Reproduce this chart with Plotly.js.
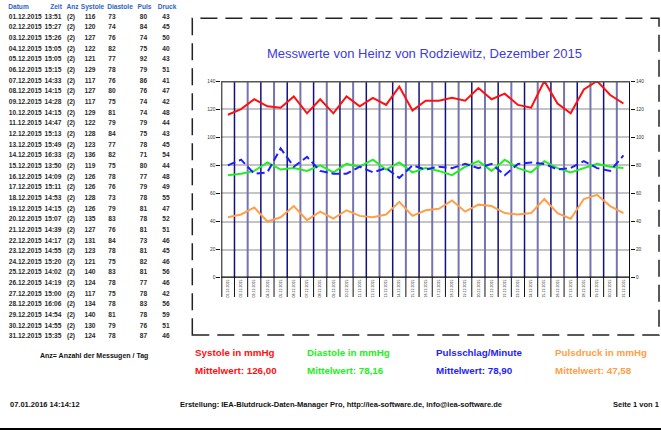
<!DOCTYPE html>
<html>
<head>
<meta charset="utf-8">
<script src="https://cdn.plot.ly/plotly-3.0.1.min.js"></script>
<style>
  html, body { margin: 0; padding: 0; background: #fff; }
  #chart { width: 661px; height: 430px; }
</style>
</head>
<body>
<div id="chart"></div>
<script>
// Blutdruck-Tageswerte Dezember 2015 (Mittel aus 2 Messungen pro Tag)
const dates = ['01.12.2015','02.12.2015','03.12.2015','04.12.2015','05.12.2015','06.12.2015','07.12.2015',
  '08.12.2015','09.12.2015','10.12.2015','11.12.2015','12.12.2015','13.12.2015','14.12.2015','15.12.2015',
  '16.12.2015','17.12.2015','18.12.2015','19.12.2015','20.12.2015','21.12.2015','22.12.2015','23.12.2015',
  '24.12.2015','25.12.2015','26.12.2015','27.12.2015','28.12.2015','29.12.2015','30.12.2015','31.12.2015'];
const times = ['13:51','15:27','15:26','15:05','15:05','15:15','14:33','14:15','14:28','14:15','14:47',
  '15:13','15:49','16:33','13:50','14:09','15:11','14:53','14:15','15:07','14:39','14:17','14:55',
  '15:20','14:02','14:19','15:00','16:06','14:54','14:55','15:35'];
const counts = [2,2,2,2,2,2,2,2,2,2,2,2,2,2,2,2,2,2,2,2,2,2,2,2,2,2,2,2,2,2,2];
const systole = [116,120,127,122,121,129,117,127,117,129,122,128,123,136,119,126,126,128,126,135,127,
  131,123,121,140,124,117,134,140,130,124];
const diastole = [73,74,76,82,77,78,76,80,75,81,79,84,77,82,75,78,76,73,79,83,76,84,78,75,83,78,75,78,
  81,79,78];
const puls = [80,84,74,75,92,79,86,76,74,74,79,75,78,71,80,77,79,78,81,78,81,73,81,82,81,77,78,83,78,76,87];
const druck = [43,45,50,40,43,51,41,47,42,48,44,43,45,54,44,48,49,55,47,52,51,46,45,46,56,46,42,56,59,51,46];

const headers = ['Datum','Zeit','Anz','Systole','Diastole','Puls','Druck'];
const seriesNames = ['Systole in mmHg','Diastole in mmHg','Pulsschlag/Minute','Pulsdruck in mmHg'];
const meanLabels = ['Mittelwert: 126,00','Mittelwert: 78,16','Mittelwert: 78,90','Mittelwert: 47,58'];

const W = 661, H = 430;
const px = v => v / W;          // horizontal pixel -> paper
const py = v => 1 - v / H;      // vertical pixel -> paper
const FONT = 'Liberation Sans, Arial, sans-serif';

const colRed = '#ff1010', colGreen = '#22ee22', colBlue = '#1e1eff', colOrange = '#ffa048';

// ---------- table on the left (own hidden axes, y in row units) ----------
const rowTop = 17, rowStep = 10.66;
const tableYRange = [(H - rowTop) / rowStep, -rowTop / rowStep];
const rowIdx = dates.map((d, i) => i);
const tableCols = [
  { text: dates, x: 25.3 },
  { text: times, x: 53 },
  { text: counts.map(c => '(' + c + ')'), x: 71 },
  { text: systole.map(String), x: 90 },
  { text: diastole.map(String), x: 112 },
  { text: puls.map(String), x: 143.5 },
  { text: druck.map(String), x: 166 }
];
const headerX = [18.5, 56, 72.5, 92.5, 120, 144.5, 167];

const traces = [];
tableCols.forEach(c => {
  traces.push({
    type: 'scatter', mode: 'text', xaxis: 'x2', yaxis: 'y2',
    x: rowIdx.map(() => c.x), y: rowIdx, text: c.text,
    textposition: 'middle center',
    textfont: { family: FONT, size: 6.6, color: '#2a2a2a', weight: 'bold' },
    hoverinfo: 'skip', showlegend: false
  });
});
traces.push({
  type: 'scatter', mode: 'text', xaxis: 'x2', yaxis: 'y2',
  x: headerX, y: headers.map(() => -0.92), text: headers,
  textposition: 'middle center',
  textfont: { family: FONT, size: 6.6, color: '#2f63c4', weight: 'bold' },
  hoverinfo: 'skip', showlegend: false
});

// ---------- main line chart ----------
traces.push({ type: 'scatter', mode: 'lines', x: dates, y: systole, name: seriesNames[0],
  line: { color: colRed, width: 2 }, hoverinfo: 'x+y' });
traces.push({ type: 'scatter', mode: 'lines', x: dates, y: diastole, name: seriesNames[1],
  line: { color: colGreen, width: 2 }, hoverinfo: 'x+y' });
traces.push({ type: 'scatter', mode: 'lines', x: dates, y: puls, name: seriesNames[2],
  line: { color: colBlue, width: 2, dash: '8px,4px' }, hoverinfo: 'x+y' });
traces.push({ type: 'scatter', mode: 'lines', x: dates, y: druck, name: seriesNames[3],
  yaxis: 'y3', line: { color: colOrange, width: 2 }, hoverinfo: 'x+y' });

// plot area in pixels
const plotL = 221.3, plotR = 630, plotT = 81, plotB = 277.7, sepBottom = 297;
const n = dates.length;

const shapes = [];
// dashed page frame
shapes.push({ type: 'rect', xref: 'paper', yref: 'paper',
  x0: px(192.3), x1: px(659), y0: py(335), y1: py(18.3),
  line: { color: '#222', width: 1.5, dash: '17px,8px' }, layer: 'below' });
// bottom page rule
shapes.push({ type: 'line', xref: 'paper', yref: 'paper', x0: 0, x1: 1, y0: py(429), y1: py(429),
  line: { color: '#000', width: 2 } });
// day separators inside the plot, alternating tones
for (let k = 0; k < n - 1; k++) {
  shapes.push({ type: 'line', xref: 'x', yref: 'y', x0: k + 0.5, x1: k + 0.5, y0: 0, y1: 140,
    line: { color: k % 2 === 0 ? '#10107e' : '#7474b0', width: k % 2 === 0 ? 1.5 : 2 }, layer: 'between' });
  // separators between the date labels
  shapes.push({ type: 'line', xref: 'x', yref: 'paper', x0: k + 0.5, x1: k + 0.5,
    y0: py(sepBottom), y1: py(plotB), line: { color: '#111', width: 1 } });
}
// left / right axis lines reaching into the label band
[-0.5, n - 0.5].forEach(xv => {
  shapes.push({ type: 'line', xref: 'x', yref: 'paper', x0: xv, x1: xv,
    y0: py(sepBottom), y1: py(plotT), line: { color: '#111', width: 2 } });
});
// top border and zero line
shapes.push({ type: 'line', xref: 'x', yref: 'y', x0: -0.5, x1: n - 0.5, y0: 140, y1: 140,
  line: { color: '#555', width: 3 } });
shapes.push({ type: 'line', xref: 'x', yref: 'y', x0: -0.5, x1: n - 0.5, y0: 0, y1: 0,
  line: { color: '#000', width: 2.5 } });

// ---------- texts ----------
const ann = [];
ann.push({ xref: 'paper', yref: 'paper', x: px(425), y: py(53), xanchor: 'center', yanchor: 'middle',
  text: 'Messwerte von Heinz von Rodziewitz, Dezember 2015', showarrow: false,
  font: { family: FONT, size: 13, color: '#3c3cdc' } });

const legendX = [193, 305, 434, 553];
const legendCol = [colRed, colGreen, colBlue, colOrange];
seriesNames.forEach((s, i) => {
  ann.push({ xref: 'paper', yref: 'paper', x: px(legendX[i]), y: py(352), xanchor: 'left', yanchor: 'middle',
    text: '<b>' + s + '</b>', showarrow: false, font: { family: FONT, size: 9.8, color: legendCol[i] } });
  ann.push({ xref: 'paper', yref: 'paper', x: px(legendX[i]), y: py(370), xanchor: 'left', yanchor: 'middle',
    text: '<b>' + meanLabels[i] + '</b>', showarrow: false, font: { family: FONT, size: 9.8, color: legendCol[i] } });
});
ann.push({ xref: 'paper', yref: 'paper', x: px(94), y: py(356), xanchor: 'center', yanchor: 'middle',
  text: '<b>Anz= Anzahl der Messugen / Tag</b>', showarrow: false, font: { family: FONT, size: 7, color: '#111' } });
ann.push({ xref: 'paper', yref: 'paper', x: px(8), y: py(404), xanchor: 'left', yanchor: 'middle',
  text: '<b>07.01.2016 14:14:12</b>', showarrow: false, font: { family: FONT, size: 7.5, color: '#111' } });
ann.push({ xref: 'paper', yref: 'paper', x: px(178), y: py(404), xanchor: 'left', yanchor: 'middle',
  text: '<b>Erstellung: IEA-Blutdruck-Daten-Manager Pro, http://iea-software.de, info@iea-software.de</b>',
  showarrow: false, font: { family: FONT, size: 7.5, color: '#111' } });
ann.push({ xref: 'paper', yref: 'paper', x: px(661), y: py(404), xanchor: 'right', yanchor: 'middle',
  text: '<b>Seite 1 von 1</b>', showarrow: false, font: { family: FONT, size: 7.5, color: '#111' } });

const yTickFont = { family: FONT, size: 4.8, color: '#333' };
const layout = {
  width: W, height: H,
  margin: { l: 0, r: 0, t: 0, b: 0, pad: 0 },
  paper_bgcolor: '#fff', plot_bgcolor: 'rgba(0,0,0,0)',
  showlegend: false,
  font: { family: FONT },
  xaxis: {
    domain: [px(plotL), px(plotR)], type: 'category', range: [-0.5, n - 0.5],
    tickangle: -90, tickfont: { family: FONT, size: 3.6, color: '#111' },
    showgrid: false, zeroline: false, showline: false, ticks: '', fixedrange: true, automargin: false
  },
  yaxis: {
    domain: [py(plotB), py(plotT)], range: [0, 140], dtick: 20,
    showgrid: true, gridcolor: '#c4c4c4', gridwidth: 2, zeroline: false, showline: false,
    ticks: 'outside', ticklen: 4, tickwidth: 1, tickcolor: '#111',
    tickfont: yTickFont, fixedrange: true, automargin: false
  },
  yaxis3: {
    overlaying: 'y', side: 'right', anchor: 'x', range: [0, 140], dtick: 20,
    showgrid: false, zeroline: false, showline: false,
    ticks: 'outside', ticklen: 4, tickwidth: 1, tickcolor: '#111',
    tickfont: yTickFont, fixedrange: true, automargin: false
  },
  xaxis2: { domain: [0, 1], range: [0, W], visible: false, fixedrange: true, anchor: 'y2' },
  yaxis2: { domain: [0, 1], range: tableYRange, visible: false, fixedrange: true, anchor: 'x2' },
  shapes: shapes,
  annotations: ann
};

Plotly.newPlot('chart', traces, layout, { staticPlot: true, displayModeBar: false });
</script>
</body>
</html>
